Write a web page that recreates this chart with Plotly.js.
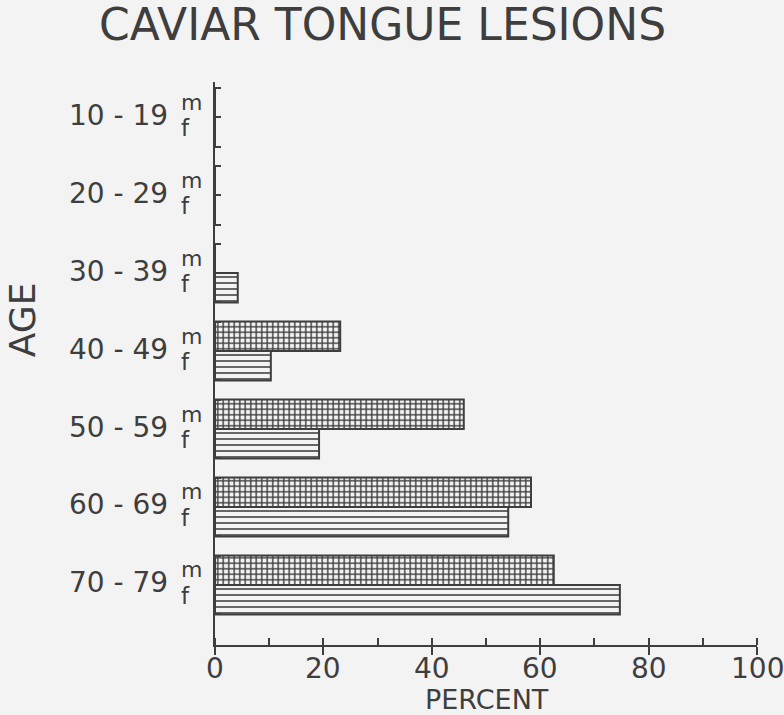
<!DOCTYPE html>
<html>
<head>
<meta charset="utf-8">
<script src="https://cdn.plot.ly/plotly-3.0.1.min.js"></script>
<style>html,body{margin:0;padding:0;background:#f3f3f3;}#chart{width:784px;height:715px;}</style>
</head>
<body>
<div id="chart"></div>
<script>
const ages = ['10 - 19', '20 - 29', '30 - 39', '40 - 49', '50 - 59', '60 - 69', '70 - 79'];
const male = [0, 0, 0, 23.1, 45.9, 58.3, 62.5];
const female = [0, 0, 4.2, 10.3, 19.2, 54.1, 74.7];
const sexLabels = ['m', 'f'];
const xTicks = [0, 20, 40, 60, 80, 100];

const ink = '#3e3e3e';
const paper = '#f3f3f3';
const font = 'DejaVu Sans, sans-serif';
const BARGAP = 0.245;

// boundary ticks on the age axis: top edge, middle (m/f split) and bottom edge of each pair
const halfPair = (1 - BARGAP) / 2;
const edgeTicks = [];
ages.forEach((a, i) => { edgeTicks.push(i - halfPair, i, i + halfPair); });

const traces = [
  {
    type: 'bar', orientation: 'h', name: sexLabels[0], y: ages, x: male,
    marker: {color: paper, line: {color: ink, width: 2},
      pattern: {shape: '+', size: 5.5, solidity: 0.45, fgcolor: ink, bgcolor: paper}},
    hoverinfo: 'skip'
  },
  {
    type: 'bar', orientation: 'h', name: sexLabels[1], y: ages, x: female,
    marker: {color: paper, line: {color: ink, width: 2},
      pattern: {shape: '-', size: 6, solidity: 0.26, fgcolor: ink, bgcolor: paper}},
    hoverinfo: 'skip'
  },
  {
    // carrier so the edge-tick axis is drawn; it has no visible marks
    type: 'scatter', mode: 'markers', x: [null], y: [null], yaxis: 'y2', hoverinfo: 'skip', showlegend: false
  }
];

const annotations = [];
ages.forEach(a => {
  annotations.push({xref: 'paper', yref: 'y', x: -0.083, y: a, text: a, showarrow: false,
    xanchor: 'right', yanchor: 'middle', yshift: 2, font: {family: font, size: 28, color: ink}});
  annotations.push({xref: 'paper', yref: 'y', x: -0.066, y: a, text: sexLabels[0], showarrow: false,
    xanchor: 'left', yanchor: 'middle', yshift: 15, font: {family: font, size: 22, color: ink}});
  annotations.push({xref: 'paper', yref: 'y', x: -0.066, y: a, text: sexLabels[1], showarrow: false,
    xanchor: 'left', yanchor: 'middle', yshift: -11, font: {family: font, size: 23, color: ink}});
});
xTicks.forEach(v => {
  annotations.push({xref: 'x', yref: 'paper', x: v, y: 0, text: String(v), showarrow: false, borderpad: 0,
    xanchor: 'center', yanchor: 'top', yshift: -6, font: {family: font, size: 28, color: ink}});
});
annotations.push({xref: 'paper', yref: 'paper', x: 0.502, y: 0, text: 'PERCENT', showarrow: false, borderpad: 0,
  xanchor: 'center', yanchor: 'middle', yshift: -54, font: {family: font, size: 27, color: ink}});
annotations.push({xref: 'paper', yref: 'paper', x: -0.356, y: 0.577, text: 'AGE', textangle: -90,
  showarrow: false, xanchor: 'center', yanchor: 'middle', font: {family: font, size: 36, color: ink}});

const layout = {
  width: 784, height: 715,
  margin: {l: 215, r: 27, t: 82, b: 70},
  paper_bgcolor: paper, plot_bgcolor: paper,
  showlegend: false,
  barmode: 'group', bargap: BARGAP, bargroupgap: 0,
  title: {text: 'CAVIAR TONGUE LESIONS', font: {family: font, size: 44, color: ink},
    xref: 'container', x: 0.488, xanchor: 'center', yref: 'container', y: 1 - 25 / 715, yanchor: 'middle', pad: {t: 0, b: 0}},
  xaxis: {
    range: [0, 100], autorange: false, showgrid: false, zeroline: false,
    showline: true, linecolor: ink, linewidth: 2,
    tickvals: xTicks, showticklabels: false, ticks: 'outside', ticklen: 8, tickwidth: 2, tickcolor: ink,
    minor: {dtick: 10, ticks: 'inside', ticklen: 7, tickwidth: 2, tickcolor: ink}
  },
  yaxis: {
    type: 'category', categoryarray: ages, categoryorder: 'array',
    range: [6.77, -0.45], autorange: false,
    showgrid: false, zeroline: false, showline: true, linecolor: ink, linewidth: 2,
    showticklabels: false, ticks: ''
  },
  yaxis2: {
    overlaying: 'y', side: 'left', range: [6.77, -0.45], autorange: false,
    showgrid: false, zeroline: false, showline: false,
    tickvals: edgeTicks, showticklabels: false, ticks: 'inside', ticklen: 6, tickwidth: 2, tickcolor: ink
  },
  annotations: annotations
};

Plotly.newPlot('chart', traces, layout, {staticPlot: true, displayModeBar: false});
</script>
</body>
</html>
